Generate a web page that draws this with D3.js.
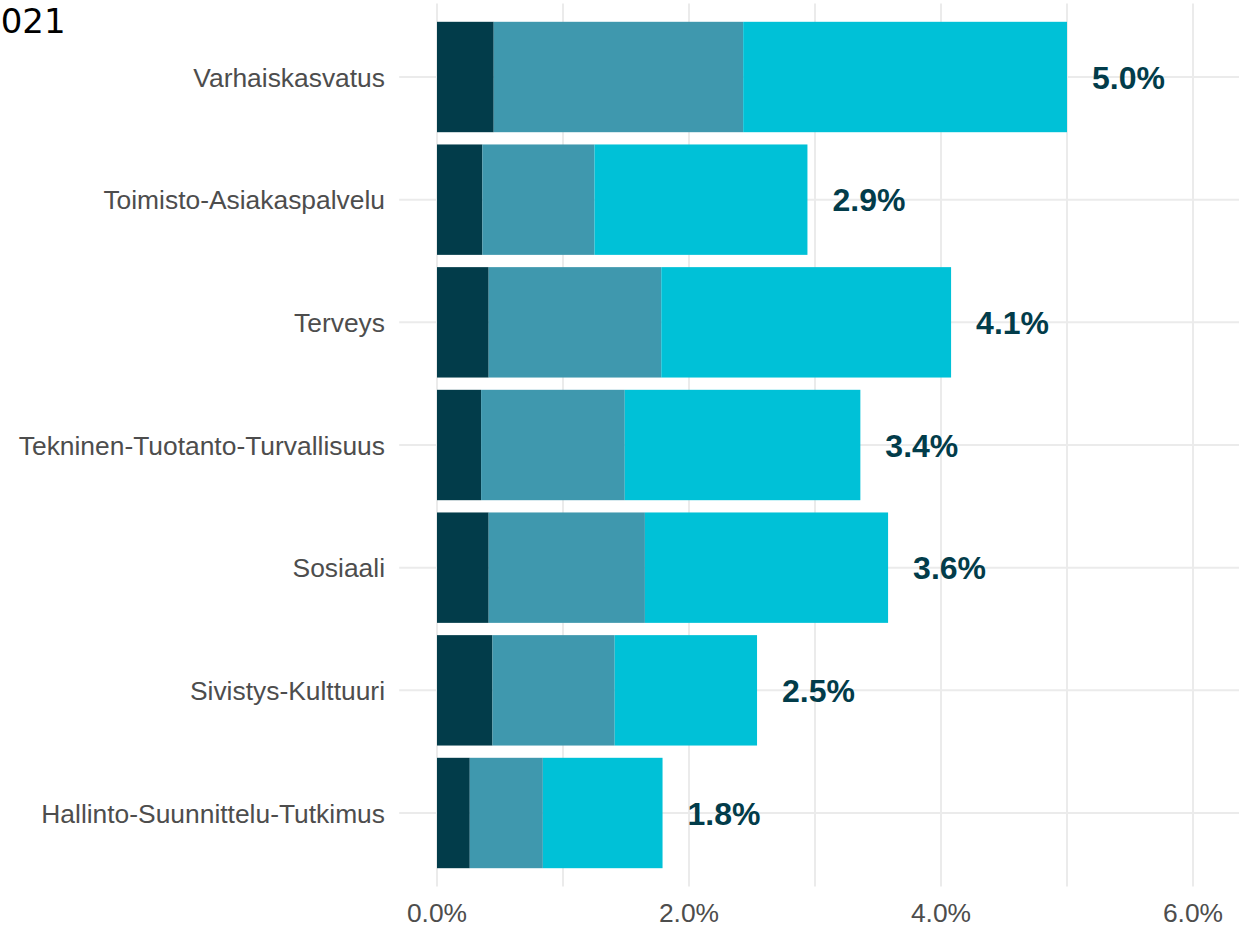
<!DOCTYPE html>
<html>
<head>
<meta charset="utf-8">
<script src="https://cdn.jsdelivr.net/npm/d3@7"></script>
<style>
  body { margin: 0; background: #fff; }
  svg { display: block; }
</style>
</head>
<body>
<div id="chart"></div>
<script>
// categories top to bottom
var categories = ["Varhaiskasvatus", "Toimisto-Asiakaspalvelu", "Terveys",
    "Tekninen-Tuotanto-Turvallisuus", "Sosiaali", "Sivistys-Kulttuuri",
    "Hallinto-Suunnittelu-Tutkimus"];

// three stacked parts per category (share, 0-1)
var part1 = [0.0045, 0.0036, 0.0041, 0.0035, 0.0041, 0.0044, 0.0026];
var part2 = [0.0198, 0.0089, 0.0137, 0.0114, 0.0124, 0.0097, 0.0058];
var part3 = [0.0257, 0.0169, 0.0230, 0.0187, 0.0193, 0.0113, 0.0095];

var xTicks = [0, 0.02, 0.04, 0.06];
var gridTicks = [0, 0.01, 0.02, 0.03, 0.04, 0.05, 0.06];
var colors = ["#023C4A", "#3F98AE", "#00C1D7"];
var title = "2021";

var width = 1239, height = 926;

var data = categories.map(function(c, i) {
    return { cat: c, p1: part1[i], p2: part2[i], p3: part3[i] };
});

var svg = d3.select("#chart").append("svg")
    .attr("width", width)
    .attr("height", height);

var x = d3.scaleLinear()
    .domain([0, 0.06])
    .range([437, 1193]);

var y = d3.scaleBand()
    .domain(categories)
    .range([3.4, 886.6])
    .paddingInner(0.1)
    .paddingOuter(0.15);

var panelLeft = x(-0.003);

// grid
svg.append("g").selectAll("line.h")
    .data(categories)
    .enter().append("line")
    .attr("x1", panelLeft)
    .attr("x2", width)
    .attr("y1", function(d) { return y(d) + y.bandwidth() / 2; })
    .attr("y2", function(d) { return y(d) + y.bandwidth() / 2; })
    .attr("stroke", "#ebebeb")
    .attr("stroke-width", 2);

svg.append("g").selectAll("line.v")
    .data(gridTicks)
    .enter().append("line")
    .attr("x1", function(d) { return x(d); })
    .attr("x2", function(d) { return x(d); })
    .attr("y1", 3.4)
    .attr("y2", 886.6)
    .attr("stroke", "#ebebeb")
    .attr("stroke-width", 2);

// stacked bars
var stack = d3.stack().keys(["p1", "p2", "p3"]);
var series = stack(data);

svg.append("g").selectAll("g")
    .data(series)
    .enter().append("g")
    .attr("fill", function(d, i) { return colors[i]; })
    .selectAll("rect")
    .data(function(d) { return d; })
    .enter().append("rect")
    .attr("x", function(d) { return x(d[0]); })
    .attr("width", function(d) { return x(d[1]) - x(d[0]); })
    .attr("y", function(d) { return y(d.data.cat); })
    .attr("height", y.bandwidth());

// total labels
svg.append("g").selectAll("text")
    .data(data)
    .enter().append("text")
    .attr("x", function(d) { return x(d.p1 + d.p2 + d.p3) + 25; })
    .attr("y", function(d) { return y(d.cat) + y.bandwidth() / 2; })
    .attr("dy", "0.36em")
    .attr("font-family", "'Liberation Sans', Arial, sans-serif")
    .attr("font-weight", "bold")
    .attr("font-size", 32)
    .attr("fill", "#023C4A")
    .text(function(d) { return d3.format(".1%")(d.p1 + d.p2 + d.p3); });

// y axis labels
svg.append("g").selectAll("text")
    .data(categories)
    .enter().append("text")
    .attr("x", 385)
    .attr("y", function(d) { return y(d) + y.bandwidth() / 2; })
    .attr("dy", "0.36em")
    .attr("text-anchor", "end")
    .attr("font-family", "'Liberation Sans', Arial, sans-serif")
    .attr("font-size", 26.4)
    .attr("fill", "#4d4d4d")
    .text(function(d) { return d; });

// x axis labels
svg.append("g").selectAll("text")
    .data(xTicks)
    .enter().append("text")
    .attr("x", function(d) { return x(d); })
    .attr("y", 921.5)
    .attr("text-anchor", "middle")
    .attr("font-family", "'Liberation Sans', Arial, sans-serif")
    .attr("font-size", 26.4)
    .attr("fill", "#4d4d4d")
    .text(function(d) { return d3.format(".1%")(d); });

// title, clipped at the left edge as in the source image
svg.append("text")
    .attr("x", -21)
    .attr("y", 33)
    .attr("font-family", "'DejaVu Sans', sans-serif")
    .attr("font-size", 34)
    .attr("fill", "#000")
    .text(title);
</script>
</body>
</html>
